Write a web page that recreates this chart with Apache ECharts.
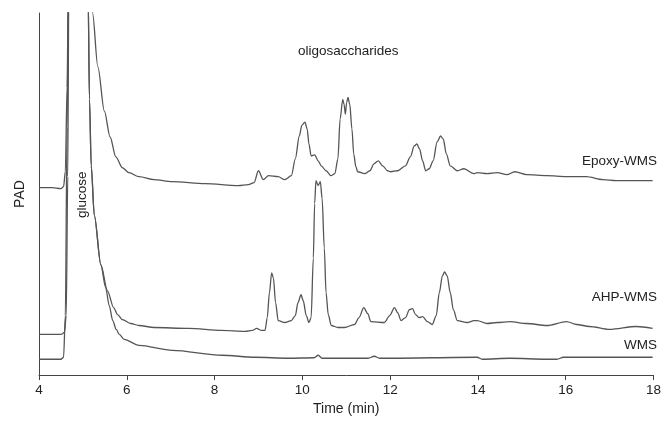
<!DOCTYPE html>
<html lang="en">
<head>
  <meta charset="UTF-8">
  <title>PAD chromatograms</title>
  <script src="https://cdn.jsdelivr.net/npm/echarts@6/dist/echarts.min.js"></script>
  <style>
    html, body { margin: 0; padding: 0; background: #fff; }
    #chart { width: 664px; height: 421px; }
  </style>
</head>
<body>
  <div id="chart"></div>
  <script>
    // x tick labels (min)
    const timeTicks = [4, 6, 8, 10, 12, 14, 16, 18];

    // Epoxy-WMS trace: time (min) and detector signal (arbitrary units)
    const epoxyTime = [4.0, 4.3, 4.5, 4.56, 4.6, 4.64, 4.67, 4.85, 5.05, 5.15, 5.22, 5.34, 5.49, 5.62, 5.75, 5.9, 6.05, 6.28, 6.62, 7.03, 7.79, 8.54, 8.77, 8.9, 9.0, 9.11, 9.23, 9.45, 9.6, 9.75, 9.84, 9.93, 9.99, 10.06, 10.11, 10.15, 10.2, 10.28, 10.36, 10.43, 10.54, 10.65, 10.74, 10.81, 10.86, 10.92, 10.95, 10.98, 11.01, 11.04, 11.08, 11.13, 11.17, 11.22, 11.26, 11.42, 11.54, 11.63, 11.73, 11.83, 11.94, 12.01, 12.17, 12.35, 12.46, 12.55, 12.61, 12.67, 12.74, 12.81, 12.89, 12.98, 13.07, 13.15, 13.21, 13.28, 13.37, 13.53, 13.68, 13.91, 13.98, 14.21, 14.44, 14.66, 14.84, 15.11, 15.57, 16.02, 16.47, 16.85, 17.15, 17.45, 17.98];
    const epoxySignal = [189, 189, 188, 190, 205, 290, 400, 900, 700, 450, 365, 311, 266, 240, 220, 209, 204, 200, 197, 195, 193, 191, 192, 194, 206, 197, 201, 200, 197, 201, 218, 241, 252, 255, 248, 233, 221, 222, 216, 211, 206, 201, 203, 218, 258, 278, 273, 263, 275, 280, 273, 248, 223, 210, 205, 203, 206, 213, 216, 211, 206, 205, 206, 211, 220, 231, 233, 228, 216, 206, 208, 216, 235, 241, 238, 223, 211, 206, 208, 203, 204, 203, 204, 202, 205, 202, 201, 200, 200, 197, 196, 196, 196];

    // AHP-WMS trace
    const ahpTime = [4.0, 4.5, 4.58, 4.62, 4.655, 4.68, 4.85, 5.05, 5.12, 5.15, 5.19, 5.26, 5.41, 5.56, 5.7, 5.79, 5.9, 6.09, 6.28, 6.62, 7.41, 8.16, 8.7, 8.86, 8.96, 9.07, 9.15, 9.2, 9.25, 9.3, 9.34, 9.39, 9.45, 9.6, 9.75, 9.84, 9.9, 9.97, 10.02, 10.09, 10.15, 10.2, 10.25, 10.28, 10.31, 10.36, 10.41, 10.45, 10.5, 10.54, 10.59, 10.66, 10.81, 10.96, 11.19, 11.29, 11.4, 11.49, 11.56, 11.87, 11.99, 12.1, 12.17, 12.25, 12.35, 12.44, 12.51, 12.58, 12.66, 12.74, 12.85, 12.96, 13.05, 13.12, 13.19, 13.24, 13.3, 13.37, 13.44, 13.53, 13.76, 13.91, 13.98, 14.21, 14.44, 14.73, 15.11, 15.57, 16.02, 16.25, 16.54, 17.0, 17.61, 17.98];
    const ahpSignal = [41, 41, 43, 60, 200, 400, 900, 600, 380, 278, 211, 161, 111, 85, 68, 61, 56, 52, 50, 48, 47, 45, 44, 45, 47, 45, 45, 58, 83, 103, 98, 73, 55, 53, 55, 60, 73, 81, 75, 60, 53, 58, 118, 173, 196, 191, 195, 178, 128, 83, 61, 50, 48, 48, 51, 58, 68, 62, 54, 53, 60, 68, 63, 55, 58, 66, 67, 61, 58, 59, 54, 51, 60, 83, 100, 104, 100, 83, 66, 55, 53, 55, 55, 52, 53, 54, 52, 50, 54, 51, 49, 46, 49, 47];

    // WMS trace
    const wmsTime = [4.0, 4.5, 4.56, 4.6, 4.64, 4.67, 4.85, 5.05, 5.12, 5.15, 5.19, 5.26, 5.41, 5.52, 5.6, 5.68, 5.76, 5.83, 5.94, 6.28, 7.04, 8.17, 8.92, 9.68, 10.27, 10.36, 10.45, 10.59, 11.5, 11.64, 11.76, 11.94, 13.98, 14.1, 14.73, 15.57, 15.8, 15.95, 16.72, 17.98];
    const wmsSignal = [16, 16, 18, 60, 250, 400, 900, 600, 380, 278, 211, 161, 111, 88, 70, 55, 46, 41, 36, 30, 25, 20, 18, 17, 17.5, 20, 17, 17, 17, 19, 17, 17, 18, 16, 17, 16, 16, 18, 18, 18];

    const traceColor = '#555';
    const font = '"Liberation Sans", Arial, sans-serif';

    function pairs(t, v) {
      return t.map((x, i) => [x, v[i]]);
    }

    function trace(name, t, v) {
      return {
        name: name,
        type: 'line',
        data: pairs(t, v),
        showSymbol: false,
        clip: true,
        smooth: 0.3,
        smoothMonotone: 'x',
        lineStyle: { color: traceColor, width: 1.3 },
        silent: true
      };
    }

    let chart = echarts.init(document.getElementById('chart'));
    chart.setOption({
      animation: false,
      backgroundColor: '#fff',
      grid: { left: 39, right: 7, top: 13, bottom: 43 },
      xAxis: {
        type: 'value',
        min: timeTicks[0],
        max: timeTicks[timeTicks.length - 1],
        interval: 2,
        name: 'Time (min)',
        nameLocation: 'middle',
        nameGap: 25,
        nameTextStyle: { fontFamily: font, fontSize: 14, color: '#222' },
        axisLine: { lineStyle: { color: '#444', width: 1 } },
        axisTick: { show: true, inside: false, length: 5, lineStyle: { color: '#444' } },
        axisLabel: { fontFamily: font, fontSize: 13.5, color: '#222', margin: 8 },
        splitLine: { show: false }
      },
      yAxis: {
        type: 'value',
        min: 0,
        max: 365,
        name: 'PAD',
        nameLocation: 'middle',
        nameGap: 12,
        nameTextStyle: { fontFamily: font, fontSize: 14, color: '#222' },
        axisLine: { show: true, lineStyle: { color: '#444', width: 1 } },
        axisTick: { show: false },
        axisLabel: { show: false },
        splitLine: { show: false }
      },
      series: [
        trace('Epoxy-WMS', epoxyTime, epoxySignal),
        trace('AHP-WMS', ahpTime, ahpSignal),
        trace('WMS', wmsTime, wmsSignal)
      ],
      graphic: [
        { type: 'text', left: 298, top: 44, style: { text: 'oligosaccharides', font: '13.5px ' + font, fill: '#222' } },
        { type: 'text', right: 7, top: 154, style: { text: 'Epoxy-WMS', font: '13.5px ' + font, fill: '#222' } },
        { type: 'text', right: 7, top: 290, style: { text: 'AHP-WMS', font: '13.5px ' + font, fill: '#222' } },
        { type: 'text', right: 7, top: 338, style: { text: 'WMS', font: '13.5px ' + font, fill: '#222' } },
        { type: 'text', x: 75, y: 218, rotation: Math.PI / 2, style: { text: 'glucose', font: '13.5px ' + font, fill: '#222' } }
      ]
    });
  </script>
</body>
</html>
